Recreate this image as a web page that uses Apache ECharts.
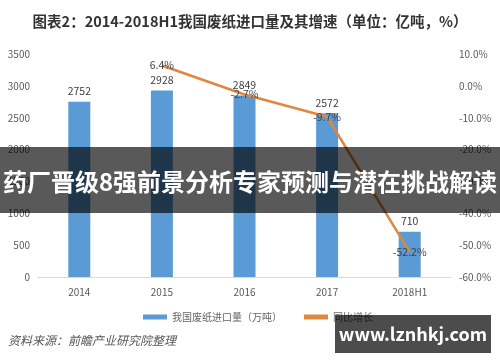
<!DOCTYPE html>
<html><head><meta charset="utf-8">
<script src="https://cdn.jsdelivr.net/npm/echarts@6/dist/echarts.min.js"></script>
<style>html,body{margin:0;padding:0;background:#fff}#c{width:500px;height:362px}</style>
</head><body><div id="c"></div>
<script>
const categories = ['2014', '2015', '2016', '2017', '2018H1'];
const importVolume = [2752, 2928, 2849, 2572, 710];
const growthRate = [null, 6.4, -2.7, -9.7, -52.2];
const leftTicks = [0, 3500, 500];
const rightTicks = [-60, 10, 10];
const titleText = '图表2：2014-2018H1我国废纸进口量及其增速（单位：亿吨，%）';
const bannerText = '药厂晋级8强前景分析专家预测与潜在挑战解读';
const sourceText = '资料来源：前瞻产业研究院整理';
const siteText = 'www.lznhkj.com';
const seriesNames = ['我国废纸进口量（万吨）', '同比增长'];

const chart = echarts.init(document.getElementById('c'));
const font = '"Noto Sans CJK SC", "Noto Sans", sans-serif';
chart.setOption({
  animation: false,
  backgroundColor: '#fff',
  textStyle: { fontFamily: font },
  title: {
    text: titleText, left: 'center', top: 9,
    textStyle: { fontSize: 14.5, fontWeight: 'bold', color: '#333', fontFamily: font }
  },
  grid: { left: 38, right: 49, top: 54, bottom: 85 },
  legend: {
    left: 138, top: 307, itemGap: 22, itemWidth: 24, itemHeight: 5,
    textStyle: { fontSize: 10, color: '#666' },
    data: [{ name: seriesNames[0], icon: 'rect' }, { name: seriesNames[1], icon: 'rect' }]
  },
  xAxis: {
    type: 'category', data: categories,
    axisLine: { lineStyle: { color: '#d9d9d9' } },
    axisTick: { show: false },
    axisLabel: { color: '#595959', fontSize: 10, margin: 10 }
  },
  yAxis: [
    { type: 'value', min: leftTicks[0], max: leftTicks[1], interval: leftTicks[2],
      splitLine: { show: false }, axisLine: { show: false }, axisTick: { show: false },
      axisLabel: { color: '#595959', fontSize: 10, margin: 8, formatter: v => String(v) } },
    { type: 'value', min: rightTicks[0], max: rightTicks[1], interval: rightTicks[2],
      splitLine: { show: false }, axisLine: { show: false }, axisTick: { show: false },
      axisLabel: { color: '#595959', fontSize: 10, margin: 8,
        formatter: v => v.toFixed(1) + '%' } }
  ],
  series: [
    { name: seriesNames[0], type: 'bar', data: importVolume, barWidth: 22,
      itemStyle: { color: '#5b9bd5' },
      label: { show: true, position: 'top', color: '#404040', fontSize: 10.5, distance: 5 } },
    { name: seriesNames[1], type: 'line', yAxisIndex: 1, data: growthRate,
      showSymbol: true, symbolSize: 0.1, symbol: 'circle',
      lineStyle: { color: '#e0873f', width: 2.5 }, itemStyle: { color: '#e0873f' },
      label: { show: true, position: 'inside', color: '#404040', fontSize: 10.5,
        formatter: p => p.value.toFixed(1) + '%' } }
  ],
  graphic: [
    { type: 'text', left: 8, top: 334, z: 50,
      style: { text: sourceText, fill: '#555', font: 'italic 12px ' + font } },
    { type: 'rect', shape: { x: 0, y: 147, width: 500, height: 66 }, z: 100,
      style: { fill: 'rgba(0,0,0,0.65)' } },
    { type: 'text', x: 250, y: 182, z: 101,
      style: { text: bannerText, fill: '#fff', font: 'bold 24px ' + font,
        textAlign: 'center', textVerticalAlign: 'middle' } },
    { type: 'rect', shape: { x: 335, y: 315, width: 156, height: 38 }, z: 100,
      style: { fill: 'rgba(0,0,0,0.7)' } },
    { type: 'text', x: 413, y: 334, z: 101,
      style: { text: siteText, fill: '#fff', font: 'bold 18px ' + font,
        textAlign: 'center', textVerticalAlign: 'middle' } }
  ]
});
</script></body></html>
